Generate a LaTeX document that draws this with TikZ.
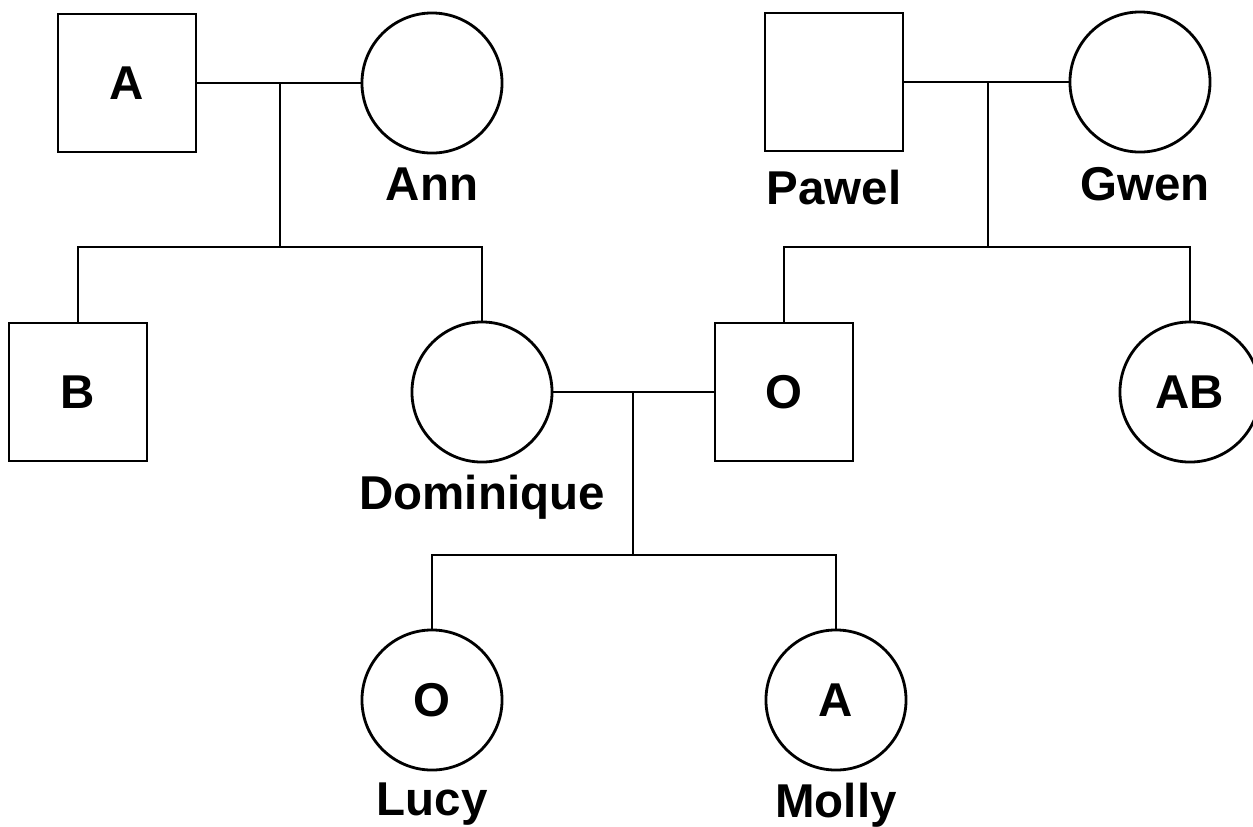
\documentclass[tikz,border=0pt]{standalone}
\usepackage{fontspec}
\setmainfont{Liberation Sans}
\usetikzlibrary{positioning}

\begin{document}
\begin{tikzpicture}[x=0.01cm, y=-0.01cm, line width=0.8pt,
        male/.style={draw, rectangle, minimum size=1.38cm, inner sep=0pt},
        female/.style={draw, circle, minimum size=1.40cm, inner sep=0pt},
        person/.style={inner sep=0pt, font=\fontsize{13.5}{16}\selectfont\bfseries}]
        \useasboundingbox (0,0) rectangle (1253,826);

        % Grandparents (left)
        \node[male, person] (pa) at (127,83) {A};
        \node[female, person] (ann) at (432,83) {};
        \node[person, below=0.12cm of ann] (annname) {Ann};

        % Grandparents (right)
        \node[male, person] (pawel) at (834,82) {};
        \node[person, below=0.16cm of pawel] (pawelname) {Pawel};
        \node[female, person] (gwen) at (1140,82) {};
        \node[person, below=0.12cm of gwen, xshift=0.05cm] (gwenname) {Gwen};

        % Children
        \node[male, person] (pb) at (78,392) {B};
        \node[female, person] (dom) at (482,392) {};
        \node[person, below=0.1cm of dom] (domname) {Dominique};
        \node[male, person] (po) at (784,392) {O};
        \node[female, person] (pab) at (1190,392) {AB};

        % Grandchildren
        \node[female, person] (lucy) at (432,700) {O};
        \node[person, below=0.1cm of lucy] (lucyname) {Lucy};
        \node[female, person] (molly) at (836,700) {A};
        \node[person, below=0.1cm of molly] (mollyname) {Molly};

        % Couple lines and drops
        \coordinate (m1) at (280,83);
        \coordinate (s1) at (280,247);
        \coordinate (m2) at (988,82);
        \coordinate (s2) at (988,247);
        \coordinate (m3) at (633,392);
        \coordinate (s3) at (633,555);

        \draw (pa.east) -- (ann.west);
        \draw (m1) -- (s1);
        \draw (pb.north) |- (s1) -| (dom.north);

        \draw (pawel.east) -- (gwen.west);
        \draw (m2) -- (s2);
        \draw (po.north) |- (s2) -| (pab.north);

        \draw (dom.east) -- (po.west);
        \draw (m3) -- (s3);
        \draw (lucy.north) |- (s3) -| (molly.north);
    \end{tikzpicture}
\end{document}
